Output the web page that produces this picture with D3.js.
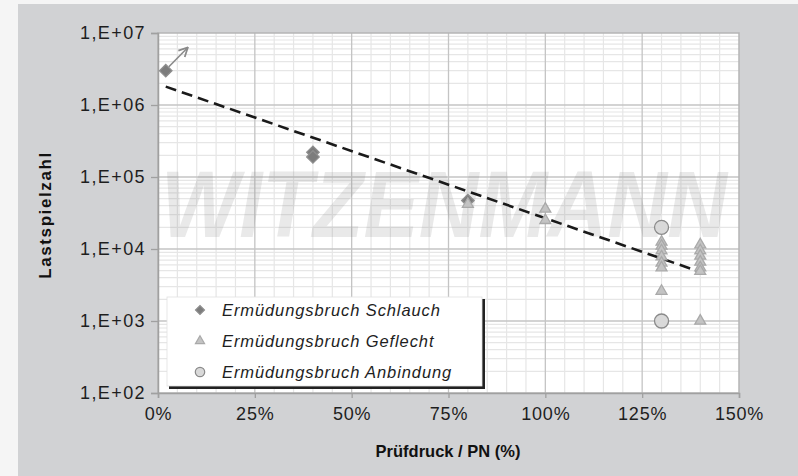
<!DOCTYPE html>
<html>
<head>
<meta charset="utf-8">
<script src="https://cdn.jsdelivr.net/npm/d3@7"></script>
<style>
  html, body { margin: 0; padding: 0; background: #f5f5f5; }
  svg { display: block; }
</style>
</head>
<body>
<svg id="chart" width="798" height="476"></svg>
<script>
// Fatigue test results: load cycles vs. test pressure relative to PN
const schlauchX = [2, 40, 40, 80];
const schlauchN = [3.0e6, 2.2e5, 1.9e5, 4.7e4];

const geflechtX = [80, 100, 100, 130, 130, 130, 130, 130, 130, 130, 140, 140, 140, 140, 140, 140, 140];
const geflechtN = [4.2e4, 3.6e4, 2.5e4, 1.25e4, 1.1e4, 9.5e3, 7.8e3, 6.4e3, 5.5e3, 2.6e3,
                   1.15e4, 9.5e3, 8.0e3, 6.6e3, 5.5e3, 4.9e3, 1.0e3];

const anbindungX = [130, 130];
const anbindungN = [2.0e4, 1.0e3];

// Exponential fit line (endpoints) and the "still running" arrow
const trendX = [2, 140];
const trendN = [1.8e6, 4.8e3];
const arrowX = [2.8, 7.7];
const arrowN = [3.4e6, 6.3e6];

const xTicks = [0, 25, 50, 75, 100, 125, 150];
const xTickLabels = ["0%", "25%", "50%", "75%", "100%", "125%", "150%"];
const yTicks = [1e2, 1e3, 1e4, 1e5, 1e6, 1e7];
const yTickLabels = ["1,E+02", "1,E+03", "1,E+04", "1,E+05", "1,E+06", "1,E+07"];

const legendLabels = ["Ermüdungsbruch Schlauch", "Ermüdungsbruch Geflecht", "Ermüdungsbruch Anbindung"];

const svg = d3.select("#chart");
const W = 798, H = 476;
const plot = { left: 158, right: 739, top: 33, bottom: 393 };

const x = d3.scaleLinear().domain([0, 150]).range([plot.left, plot.right]);
const y = d3.scaleLog().domain([1e2, 1e7]).range([plot.bottom, plot.top]);

// panel background
svg.append("rect").attr("x", 18).attr("y", 4).attr("width", W - 18).attr("height", H - 4)
  .attr("fill", "#d1d2d4");

svg.append("rect")
  .attr("x", plot.left).attr("y", plot.top)
  .attr("width", plot.right - plot.left).attr("height", plot.bottom - plot.top)
  .attr("fill", "#ffffff");

const defs = svg.append("defs");

// grid: minor every 5 %, major every 25 %; log minors 2..9
const g = svg.append("g");
const minorX = d3.range(0, 151, 5).filter(v => v % 25 !== 0);
g.selectAll(".vminor").data(minorX).enter().append("line")
  .attr("x1", d => x(d)).attr("x2", d => x(d))
  .attr("y1", plot.top).attr("y2", plot.bottom)
  .attr("stroke", "#e6e6e6").attr("stroke-width", 1.2);

const minorY = [];
for (let e = 2; e < 7; e++) for (let k = 2; k <= 9; k++) minorY.push(k * Math.pow(10, e));
g.selectAll(".hminor").data(minorY).enter().append("line")
  .attr("x1", plot.left).attr("x2", plot.right)
  .attr("y1", d => y(d)).attr("y2", d => y(d))
  .attr("stroke", "#e6e6e6").attr("stroke-width", 1.2);

g.selectAll(".vmajor").data(xTicks.slice(1, -1)).enter().append("line")
  .attr("x1", d => x(d)).attr("x2", d => x(d))
  .attr("y1", plot.top).attr("y2", plot.bottom)
  .attr("stroke", "#c4c4c4").attr("stroke-width", 1.3);

g.selectAll(".hmajor").data(yTicks.slice(1, -1)).enter().append("line")
  .attr("x1", plot.left).attr("x2", plot.right)
  .attr("y1", d => y(d)).attr("y2", d => y(d))
  .attr("stroke", "#c4c4c4").attr("stroke-width", 1.3);

// watermark
svg.append("text")
  .attr("x", 161).attr("y", 237)
  .attr("font-family", "Liberation Sans, Arial, sans-serif")
  .attr("font-weight", "bold").attr("font-style", "italic")
  .attr("font-size", 94)
  .attr("textLength", 566).attr("lengthAdjust", "spacingAndGlyphs")
  .attr("fill", "#7a7a7a").attr("fill-opacity", 0.17)
  .text("WITZENMANN");

// plot frame
svg.append("rect")
  .attr("x", plot.left).attr("y", plot.top)
  .attr("width", plot.right - plot.left).attr("height", plot.bottom - plot.top)
  .attr("fill", "none").attr("stroke", "#b5b5b5").attr("stroke-width", 1.5);

// axes
const xAxis = d3.axisBottom(x).tickValues(xTicks).tickFormat((d, i) => xTickLabels[i])
  .tickSize(5).tickPadding(9);
const yAxis = d3.axisLeft(y).tickValues(yTicks).tickFormat((d, i) => yTickLabels[i])
  .tickSize(7).tickPadding(5);

const gx = svg.append("g").attr("transform", `translate(0,${plot.bottom})`).call(xAxis);
const gy = svg.append("g").attr("transform", `translate(${plot.left},0)`).call(yAxis);
[gx, gy].forEach(a => {
  a.select(".domain").attr("stroke", "#a0a0a0").attr("stroke-width", 1.5);
  a.selectAll(".tick line").attr("stroke", "#a0a0a0").attr("stroke-width", 1.3);
  a.selectAll(".tick text")
    .attr("font-family", "Liberation Sans, Arial, sans-serif")
    .attr("font-size", 18).attr("fill", "#1e1e1e");
});
gy.selectAll(".tick text").attr("letter-spacing", "1.4px");
gx.selectAll(".tick text").attr("letter-spacing", "0.8px");

// axis titles
svg.append("text")
  .attr("x", 448).attr("y", 457).attr("text-anchor", "middle")
  .attr("font-family", "Liberation Sans, Arial, sans-serif")
  .attr("font-weight", "bold").attr("font-size", 16.5).attr("fill", "#111")
  .text("Prüfdruck / PN (%)");

svg.append("text")
  .attr("transform", "translate(51,215) rotate(-90)").attr("text-anchor", "middle")
  .attr("font-family", "Liberation Sans, Arial, sans-serif")
  .attr("font-weight", "bold").attr("font-size", 17).attr("fill", "#111")
  .attr("letter-spacing", "1.6px")
  .text("Lastspielzahl");

// trend line
const line = d3.line().x(d => x(d[0])).y(d => y(d[1]));
svg.append("path")
  .attr("d", line(d3.zip(trendX, trendN)))
  .attr("fill", "none").attr("stroke", "#1a1a1a").attr("stroke-width", 2.6)
  .attr("stroke-dasharray", "11,6");

// arrow (test not failed)
defs.append("marker").attr("id", "arrowHead")
  .attr("viewBox", "0 0 10 10").attr("refX", 9).attr("refY", 5)
  .attr("markerWidth", 7).attr("markerHeight", 7).attr("orient", "auto")
  .append("path").attr("d", "M1,1 L9,5 L1,9").attr("fill", "none")
  .attr("stroke", "#8a8a8a").attr("stroke-width", 1.6);
svg.append("path")
  .attr("d", line(d3.zip(arrowX, arrowN)))
  .attr("stroke", "#8a8a8a").attr("stroke-width", 1.6).attr("fill", "none")
  .attr("marker-end", "url(#arrowHead)");

// markers
const sym = {
  diamond: d3.symbol().type(d3.symbolSquare).size(78),
  triangle: d3.symbol().type(d3.symbolTriangle).size(52),
  circle: d3.symbol().type(d3.symbolCircle).size(155)
};
const styles = [
  { shape: "diamond", fill: "#7c7c7c", stroke: "#8e8e8e", rot: 45 },
  { shape: "triangle", fill: "#c3c3c3", stroke: "#a9a9a9", rot: 0 },
  { shape: "circle", fill: "#d9d9d9", stroke: "#8a8a8a", rot: 0 }
];
const series = [d3.zip(schlauchX, schlauchN), d3.zip(geflechtX, geflechtN), d3.zip(anbindungX, anbindungN)];

series.forEach((data, i) => {
  const s = styles[i];
  svg.append("g").selectAll("path").data(data).enter().append("path")
    .attr("d", sym[s.shape]())
    .attr("transform", d => `translate(${x(d[0])},${y(d[1])}) rotate(${s.rot})`)
    .attr("fill", s.fill).attr("stroke", s.stroke).attr("stroke-width", 1.3);
});

// legend
const lg = svg.append("g");
lg.append("rect").attr("x", 169).attr("y", 299).attr("width", 316).attr("height", 90)
  .attr("fill", "#222");
lg.append("rect").attr("x", 167).attr("y", 297).attr("width", 315).attr("height", 89)
  .attr("fill", "#ffffff").attr("stroke", "#e0e0e0").attr("stroke-width", 0.8);
const legendSym = [
  d3.symbol().type(d3.symbolSquare).size(40),
  d3.symbol().type(d3.symbolTriangle).size(36),
  d3.symbol().type(d3.symbolCircle).size(70)
];
legendLabels.forEach((lab, i) => {
  const cy = 310 + i * 31;
  const s = styles[i];
  lg.append("path").attr("d", legendSym[i]())
    .attr("transform", `translate(200,${cy}) rotate(${s.rot})`)
    .attr("fill", s.fill).attr("stroke", s.stroke).attr("stroke-width", 1.2);
  lg.append("text").attr("x", 222).attr("y", cy + 6)
    .attr("font-family", "Liberation Sans, Arial, sans-serif")
    .attr("font-style", "italic").attr("font-size", 16.5).attr("fill", "#1e1e1e")
    .attr("letter-spacing", "0.9px")
    .text(lab);
});
</script>
</body>
</html>
